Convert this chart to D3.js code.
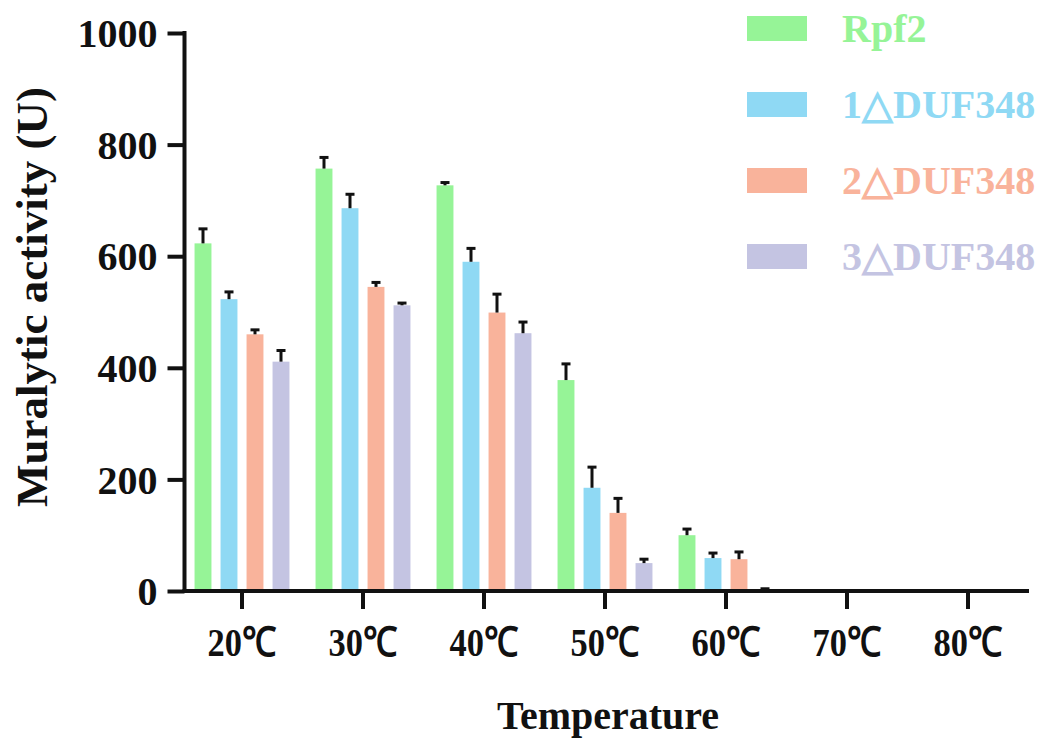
<!DOCTYPE html>
<html>
<head>
<meta charset="utf-8">
<script src="https://cdn.jsdelivr.net/npm/d3@7"></script>
<style>
  body { margin: 0; background: #fff; }
  text { font-family: "Liberation Serif", "Times New Roman", serif; font-weight: bold; }
</style>
</head>
<body>
<div id="chart"></div>
<script>
// data
var temps = ["20℃", "30℃", "40℃", "50℃", "60℃", "70℃", "80℃"];
var seriesNames = ["Rpf2", "1△DUF348", "2△DUF348", "3△DUF348"];
var seriesColors = ["#96f497", "#8fd9f4", "#f9b39b", "#c4c4e2"];

var rpf2 = [623, 757, 727, 378, 100, 0, 0];
var rpf2Err = [26, 20, 5, 29, 11, 0, 0];
var duf1 = [523, 686, 590, 185, 59, 0, 0];
var duf1Err = [13, 25, 24, 37, 9, 0, 0];
var duf2 = [460, 545, 499, 140, 57, 0, 0];
var duf2Err = [8, 8, 33, 26, 13, 0, 0];
var duf3 = [411, 512, 462, 50, 3, 0, 0];
var duf3Err = [20, 4, 20, 7, 1, 0, 0];

var yTicks = [0, 200, 400, 600, 800, 1000];

var values = [rpf2, duf1, duf2, duf3];
var errors = [rpf2Err, duf1Err, duf2Err, duf3Err];

var svgWidth = 1041;
var svgHeight = 740;

var svg = d3.select("#chart")
    .append("svg")
    .attr("width", svgWidth)
    .attr("height", svgHeight);

// scales
var yScale = d3.scaleLinear()
    .domain([0, 1000])
    .range([591, 33]);

var xScale = d3.scaleBand()
    .domain(temps)
    .range([181.5, 181.5 + 121 * temps.length])
    .padding(0);

var xInner = d3.scaleBand()
    .domain(seriesNames)
    .range([0, 104])
    .paddingInner(0.35)
    .paddingOuter(0.175);

var groupOffset = (xScale.bandwidth() - 104) / 2;

// build flat table for bars
var rows = [];
temps.forEach(function(t, i) {
    seriesNames.forEach(function(s, j) {
        rows.push({temp: t, series: s, idx: j, value: values[j][i], err: errors[j][i]});
    });
});

var barX = d => xScale(d.temp) + groupOffset + xInner(d.series);

// bars
svg.append("g").selectAll("rect")
    .data(rows.filter(d => d.value > 0))
    .enter()
    .append("rect")
    .attr("x", barX)
    .attr("width", xInner.bandwidth())
    .attr("y", d => yScale(d.value))
    .attr("height", d => yScale(0) - yScale(d.value))
    .attr("fill", d => seriesColors[d.idx]);

// error bars (upper only)
var errG = svg.append("g").attr("stroke", "#111").attr("stroke-width", 3);
rows.filter(d => d.value > 0).forEach(function(d) {
    var cx = barX(d) + xInner.bandwidth() / 2;
    errG.append("line")
        .attr("x1", cx).attr("x2", cx)
        .attr("y1", yScale(d.value)).attr("y2", yScale(d.value + d.err));
    errG.append("line")
        .attr("x1", cx - 4.5).attr("x2", cx + 4.5)
        .attr("y1", yScale(d.value + d.err)).attr("y2", yScale(d.value + d.err));
});

// y axis
var leftAxis = d3.axisLeft(yScale)
    .tickValues(yTicks)
    .tickFormat(d3.format("d"))
    .tickSize(17)
    .tickSizeOuter(0)
    .tickPadding(10);

var yAxisG = svg.append("g")
    .attr("transform", "translate(184.5, 0)")
    .call(leftAxis);
yAxisG.select(".domain").attr("stroke", "#111").attr("stroke-width", 4)
    .attr("d", "M0," + (yScale(0) + 2) + "V" + (yScale(1000) - 2));
yAxisG.selectAll(".tick line").attr("stroke", "#111").attr("stroke-width", 4);
yAxisG.selectAll(".tick text")
    .attr("fill", "#111")
    .attr("font-size", "40px")
    .attr("font-family", "Liberation Serif")
    .attr("font-weight", "bold")
    .attr("dy", "0.34em");

// x axis
var bottomAxis = d3.axisBottom(xScale)
    .tickSize(18)
    .tickSizeOuter(0);

var xAxisG = svg.append("g")
    .attr("transform", "translate(0, 591)")
    .call(bottomAxis);
xAxisG.select(".domain").attr("stroke", "#111").attr("stroke-width", 4)
    .attr("d", "M182.5,0H1029");
xAxisG.selectAll(".tick line").attr("stroke", "#111").attr("stroke-width", 4);
xAxisG.selectAll(".tick text")
    .attr("fill", "#111")
    .attr("font-size", "41px")
    .attr("font-family", "Liberation Serif")
    .attr("font-weight", "bold")
    .attr("y", 65)
    .attr("dy", 0)
    .attr("transform", "scale(0.84,1)");

// axis titles
svg.append("text")
    .attr("transform", "translate(47, 297) rotate(-90)")
    .attr("text-anchor", "middle")
    .attr("font-size", "45px")
    .attr("fill", "#111")
    .text("Muralytic activity (U)");

svg.append("text")
    .attr("x", 608)
    .attr("y", 729)
    .attr("text-anchor", "middle")
    .attr("font-size", "40px")
    .attr("fill", "#111")
    .text("Temperature");

// legend
var legend = svg.append("g").selectAll("g")
    .data(seriesNames)
    .enter()
    .append("g")
    .attr("transform", (d, i) => "translate(747," + (16 + i * 76) + ")");

legend.append("rect")
    .attr("width", 60)
    .attr("height", 25)
    .attr("fill", (d, i) => seriesColors[i]);

legend.append("text")
    .attr("x", 95)
    .attr("y", 26)
    .attr("font-size", "40px")
    .attr("fill", (d, i) => seriesColors[i])
    .text(d => d);
</script>
</body>
</html>
